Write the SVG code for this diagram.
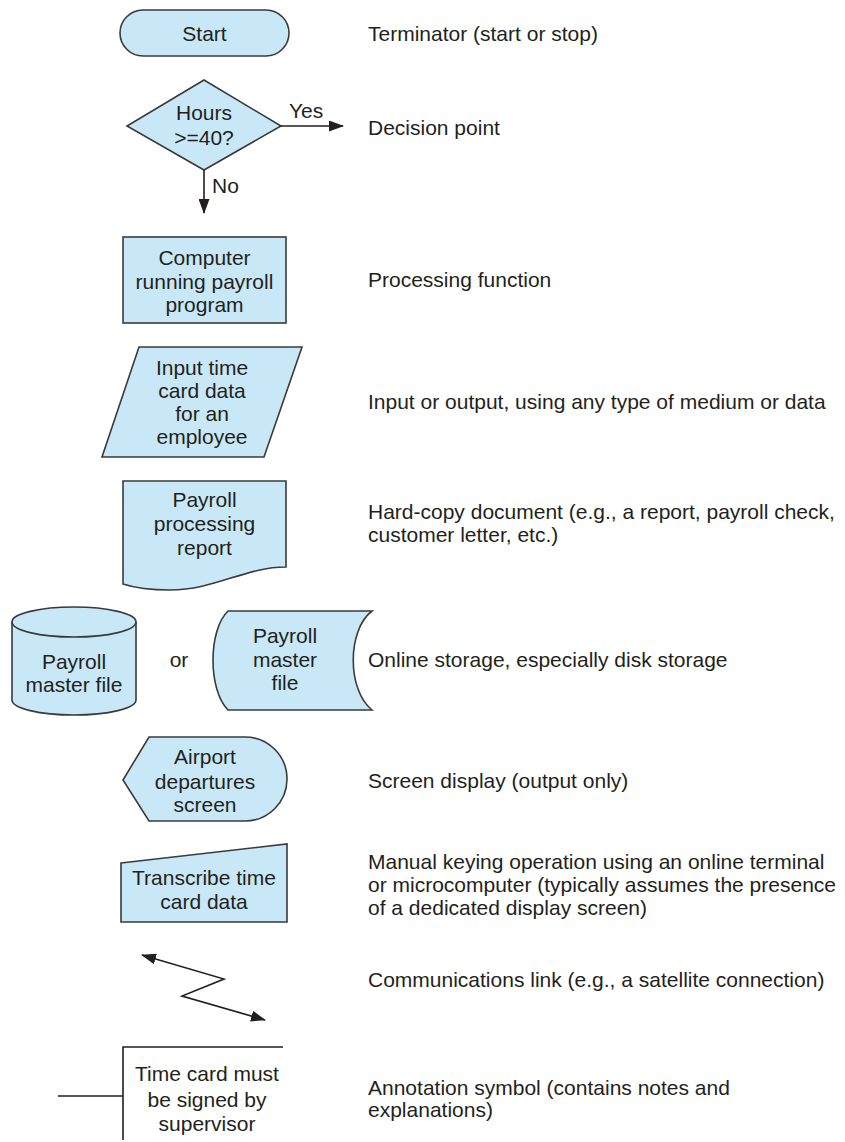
<svg xmlns="http://www.w3.org/2000/svg" width="845" height="1142" viewBox="0 0 845 1142">
<style>
.s{fill:#c8e8f7;stroke:#3a3a3a;stroke-width:1.6}
.l{fill:none;stroke:#231f20;stroke-width:1.6}
text{font-family:"Liberation Sans",Arial,sans-serif;font-size:21px;fill:#231f20}
.c{text-anchor:middle}
</style>
<defs>
<marker id="ah" viewBox="0 0 15 11" refX="14" refY="5.5" markerWidth="15" markerHeight="11" markerUnits="userSpaceOnUse" orient="auto-start-reverse">
<path d="M0,0 L15,5.5 L0,11 Z" fill="#231f20"/>
</marker>
</defs>
<rect width="845" height="1142" fill="#fff"/>

<g id="terminator">
<rect class="s" x="120" y="10" width="169" height="46" rx="23"/>
<text class="c" x="204.5" y="41">Start</text>
</g>

<g id="decision">
<polygon class="s" points="204,80 281,126 204,170 127,126"/>
<text class="c" x="204" y="120">Hours</text>
<text class="c" x="204" y="145">&gt;=40?</text>
</g>

<g id="connectors">
<line class="l" x1="281" y1="126" x2="343" y2="126" marker-end="url(#ah)"/>
<line class="l" x1="204" y1="170" x2="204" y2="213" marker-end="url(#ah)"/>
<polyline class="l" points="142,955 224,979 182,996 265,1020" marker-start="url(#ah)" marker-end="url(#ah)"/>
</g>
<text x="289" y="118">Yes</text>
<text x="212" y="193">No</text>

<g id="process">
<rect class="s" x="123" y="237" width="163" height="86"/>
<text class="c" x="204.5" y="265">Computer</text>
<text class="c" x="204.5" y="289">running payroll</text>
<text class="c" x="204.5" y="312">program</text>
</g>

<g id="io">
<polygon class="s" points="139,347 302,347 264,457 102,457"/>
<text class="c" x="202" y="375">Input time</text>
<text class="c" x="202" y="398">card data</text>
<text class="c" x="202" y="421">for an</text>
<text class="c" x="202" y="444">employee</text>
</g>

<g id="document">
<path class="s" d="M123,481 H286 V567 C245,567 215,590 170,590 C150,590 135,588 123,584 Z"/>
<text class="c" x="204.5" y="507">Payroll</text>
<text class="c" x="204.5" y="531">processing</text>
<text class="c" x="204.5" y="555">report</text>
</g>

<g id="disk">
<path class="s" d="M12,622 V700 A62,15 0 0 0 136,700 V622"/>
<ellipse class="s" cx="74" cy="622" rx="62" ry="15"/>
<text class="c" x="74" y="669">Payroll</text>
<text class="c" x="74" y="692">master file</text>
</g>
<text class="c" x="179" y="667">or</text>

<g id="online-storage">
<path class="s" d="M228,611 H372 C347,630 347,690 372,710 H228 C208,690 208,630 228,611 Z"/>
<text class="c" x="285" y="643">Payroll</text>
<text class="c" x="285" y="667">master</text>
<text class="c" x="285" y="690">file</text>
</g>

<g id="display">
<path class="s" d="M123,780 L149,737 H245 A42,42 0 0 1 245,821 H149 Z"/>
<text class="c" x="205" y="764">Airport</text>
<text class="c" x="205" y="789">departures</text>
<text class="c" x="205" y="812">screen</text>
</g>

<g id="manual-input">
<polygon class="s" points="121,863 287,844 287,922 121,922"/>
<text class="c" x="204" y="885">Transcribe time</text>
<text class="c" x="204" y="909">card data</text>
</g>

<g id="annotation">
<polyline class="l" points="283,1047 123,1047 123,1140"/>
<line class="l" x1="58" y1="1096" x2="123" y2="1096"/>
<text class="c" x="207" y="1081">Time card must</text>
<text class="c" x="207" y="1107">be signed by</text>
<text class="c" x="207" y="1131">supervisor</text>
</g>

<g id="descriptions">
<text x="368" y="41">Terminator (start or stop)</text>
<text x="368" y="135">Decision point</text>
<text x="368" y="287">Processing function</text>
<text x="368" y="409">Input or output, using any type of medium or data</text>
<text x="368" y="519">Hard-copy document (e.g., a report, payroll check,</text>
<text x="368" y="542">customer letter, etc.)</text>
<text x="368" y="667">Online storage, especially disk storage</text>
<text x="368" y="788">Screen display (output only)</text>
<text x="368" y="869">Manual keying operation using an online terminal</text>
<text x="368" y="892">or microcomputer (typically assumes the presence</text>
<text x="368" y="915">of a dedicated display screen)</text>
<text x="368" y="987">Communications link (e.g., a satellite connection)</text>
<text x="368" y="1095">Annotation symbol (contains notes and</text>
<text x="368" y="1117">explanations)</text>
</g>
</svg>
